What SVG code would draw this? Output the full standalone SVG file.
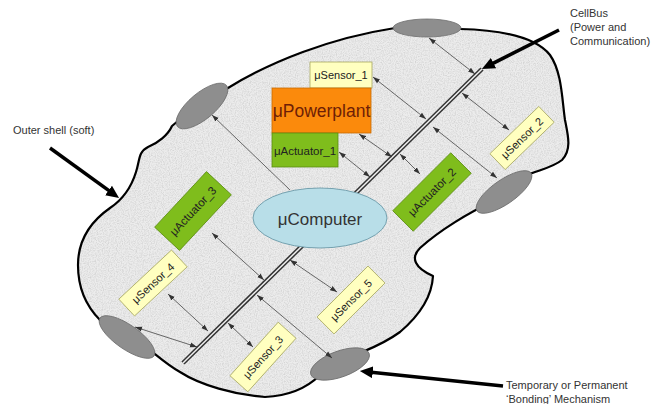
<svg xmlns="http://www.w3.org/2000/svg" width="656" height="404" viewBox="0 0 656 404">
<style>
text{font-family:"Liberation Sans",Arial,sans-serif;fill:#222}
.lbl{font-size:11px;fill:#333}
.sen{fill:#ffffc0;stroke:#a8a860;stroke-width:0.8}
.act{fill:#7fbd1c;stroke:#5b8c12;stroke-width:0.8}
.t11{font-size:11px}
.t115{font-size:11.5px}
.bond{fill:#8e8e8e;stroke:#6c6c6c;stroke-width:0.8}
.con{stroke:#444;stroke-width:0.8;fill:none}
.big{stroke:#000;stroke-width:3.5;fill:none}
</style>
<defs>
<path id="shellpath" d="M 228 88 C 270 62, 330 38, 395 28 L 460 29 C 500 30, 535 36, 550 55 C 562 72, 562 100, 565 120 C 568 135, 572 150, 562 160 C 552 168, 538 170, 525 176 L 490 203 C 470 212, 440 230, 420 248 C 410 258, 415 268, 433 276 C 432 295, 420 315, 400 332 C 385 343, 372 348, 360 353 L 320 375 C 305 390, 285 396, 265 397 C 235 395, 200 385, 180 372 C 168 365, 160 358, 150 350 L 100 320 C 85 305, 78 285, 78 265 C 78 240, 90 222, 110 208 C 125 198, 132 185, 136 172 C 140 160, 138 152, 148 147 C 158 143, 168 135, 172 126 L 185 115 Z"/>
<clipPath id="shellclip"><use href="#shellpath"/></clipPath>
<filter id="nz" x="0" y="0" width="1" height="1">
<feTurbulence type="fractalNoise" baseFrequency="0.85" numOctaves="2" seed="4"/>
<feColorMatrix type="matrix" values="0 0 0 0 0.5  0 0 0 0 0.5  0 0 0 0 0.5  1.1 0 0 0 -0.42"/>
</filter>
<marker id="ah" viewBox="0 0 10 10" refX="10" refY="5" markerWidth="7" markerHeight="7" markerUnits="userSpaceOnUse" orient="auto-start-reverse">
<path d="M0,1.5 L10,5 L0,8.5 z" fill="#333"/>
</marker>
<marker id="bh" viewBox="0 0 10 10" refX="3" refY="5" markerWidth="13" markerHeight="13" markerUnits="userSpaceOnUse" orient="auto">
<path d="M0,0.5 L10,5 L0,9.5 z" fill="#000"/>
</marker>
</defs>

<g id="shell">
<use href="#shellpath" fill="#ececec"/>
<rect x="70" y="15" width="510" height="390" fill="#fff" filter="url(#nz)" clip-path="url(#shellclip)"/>
<use href="#shellpath" fill="none" stroke="#000" stroke-width="2.2" stroke-linejoin="round"/>
</g>

<g id="bonds">
<ellipse id="bond_tl" class="bond" cx="202" cy="106" rx="32" ry="13" transform="rotate(-40 202 106)"/>
<ellipse id="bond_top" class="bond" cx="427" cy="28" rx="34" ry="9"/>
<ellipse id="bond_r" class="bond" cx="504" cy="192" rx="33" ry="12" transform="rotate(-35 504 192)"/>
<ellipse id="bond_b" class="bond" cx="340" cy="364" rx="31" ry="13" transform="rotate(-20 340 364)"/>
<ellipse id="bond_bl" class="bond" cx="127" cy="337" rx="33" ry="12" transform="rotate(35 127 337)"/>
</g>

<g id="cellbus">
<line x1="183" y1="363" x2="482" y2="69" stroke="#333" stroke-width="4.5"/>
<line x1="183" y1="363" x2="482" y2="69" stroke="#f0f0f0" stroke-width="1.5"/>
</g>

<g id="connectors">
<line class="con" x1="429" y1="38" x2="475" y2="74" marker-start="url(#ah)" marker-end="url(#ah)"/>
<line class="con" x1="373" y1="77" x2="426" y2="119" marker-start="url(#ah)" marker-end="url(#ah)"/>
<line class="con" x1="462" y1="93" x2="509" y2="130" marker-start="url(#ah)" marker-end="url(#ah)"/>
<line class="con" x1="359" y1="134" x2="392" y2="157" marker-start="url(#ah)" marker-end="url(#ah)"/>
<line class="con" x1="339" y1="152" x2="370" y2="177" marker-start="url(#ah)" marker-end="url(#ah)"/>
<line class="con" x1="400" y1="154" x2="420" y2="174" marker-start="url(#ah)" marker-end="url(#ah)"/>
<line class="con" x1="433" y1="127" x2="497" y2="178" marker-start="url(#ah)" marker-end="url(#ah)"/>
<line class="con" x1="290" y1="190" x2="212" y2="115" marker-end="url(#ah)"/>
<line class="con" x1="212" y1="233" x2="264" y2="280" marker-start="url(#ah)" marker-end="url(#ah)"/>
<line class="con" x1="290" y1="260" x2="337" y2="292" marker-start="url(#ah)" marker-end="url(#ah)"/>
<line class="con" x1="168" y1="294" x2="208" y2="331" marker-start="url(#ah)" marker-end="url(#ah)"/>
<line class="con" x1="135" y1="327" x2="197" y2="347" marker-start="url(#ah)" marker-end="url(#ah)"/>
<line class="con" x1="228" y1="323" x2="253" y2="347" marker-start="url(#ah)" marker-end="url(#ah)"/>
<line class="con" x1="257" y1="295" x2="332" y2="358" marker-start="url(#ah)" marker-end="url(#ah)"/>
<line class="big" x1="50" y1="148" x2="111.7" y2="192.7" marker-end="url(#bh)"/>
<line class="big" x1="559" y1="30" x2="490" y2="64.9" marker-end="url(#bh)"/>
<line class="big" x1="503" y1="386" x2="368.9" y2="371.9" marker-end="url(#bh)"/>
</g>

<g id="uSensor_1">
<rect class="sen" x="310" y="62" width="62" height="26"/>
<text class="t11" x="341" y="79" text-anchor="middle">μSensor_1</text>
</g>
<g id="uPowerplant">
<rect x="272" y="88" width="99" height="45" fill="#fb8a0c" stroke="#c86a00" stroke-width="0.8"/>
<text x="321.5" y="117" text-anchor="middle" font-size="17.5" style="fill:#6e1e06">μPowerplant</text>
</g>
<g id="uActuator_1">
<rect class="act" x="272" y="133" width="66" height="34"/>
<text class="t115" x="305" y="155" text-anchor="middle">μActuator_1</text>
</g>
<g id="uComputer">
<ellipse cx="320" cy="218" rx="67" ry="30" fill="#b8dee8" stroke="#6c9aa8" stroke-width="0.9"/>
<text x="320" y="225" text-anchor="middle" font-size="17" style="fill:#333">μComputer</text>
</g>
<g id="uActuator_3" transform="translate(193 211) rotate(-47)">
<rect class="act" x="-38" y="-17" width="76" height="34"/>
<text class="t115" x="0" y="4" text-anchor="middle">μActuator_3</text>
</g>
<g id="uActuator_2" transform="translate(432 192) rotate(-45)">
<rect class="act" x="-41" y="-14.5" width="82" height="29"/>
<text class="t115" x="0" y="4" text-anchor="middle">μActuator_2</text>
</g>
<g id="uSensor_2" transform="translate(522 138) rotate(-44)">
<rect class="sen" x="-34" y="-11" width="68" height="22"/>
<text class="t11" x="0" y="4" text-anchor="middle">μSensor_2</text>
</g>
<g id="uSensor_4" transform="translate(153 283) rotate(-43)">
<rect class="sen" x="-36" y="-11.5" width="72" height="23"/>
<text class="t11" x="0" y="4" text-anchor="middle">μSensor_4</text>
</g>
<g id="uSensor_3" transform="translate(263 357) rotate(-48)">
<rect class="sen" x="-36" y="-12" width="72" height="24"/>
<text class="t11" x="0" y="4" text-anchor="middle">μSensor_3</text>
</g>
<g id="uSensor_5" transform="translate(351 300) rotate(-45)">
<rect class="sen" x="-36" y="-12" width="72" height="24"/>
<text class="t11" x="0" y="4" text-anchor="middle">μSensor_5</text>
</g>

<g id="labels">
<text class="lbl" x="13" y="134">Outer shell (soft)</text>
<text class="lbl" x="570" y="17">CellBus</text>
<text class="lbl" x="570" y="31">(Power and</text>
<text class="lbl" x="570" y="45">Communication)</text>
<text class="lbl" x="506" y="389">Temporary or Permanent</text>
<text class="lbl" x="506" y="403">‘Bonding’ Mechanism</text>
</g>
</svg>
